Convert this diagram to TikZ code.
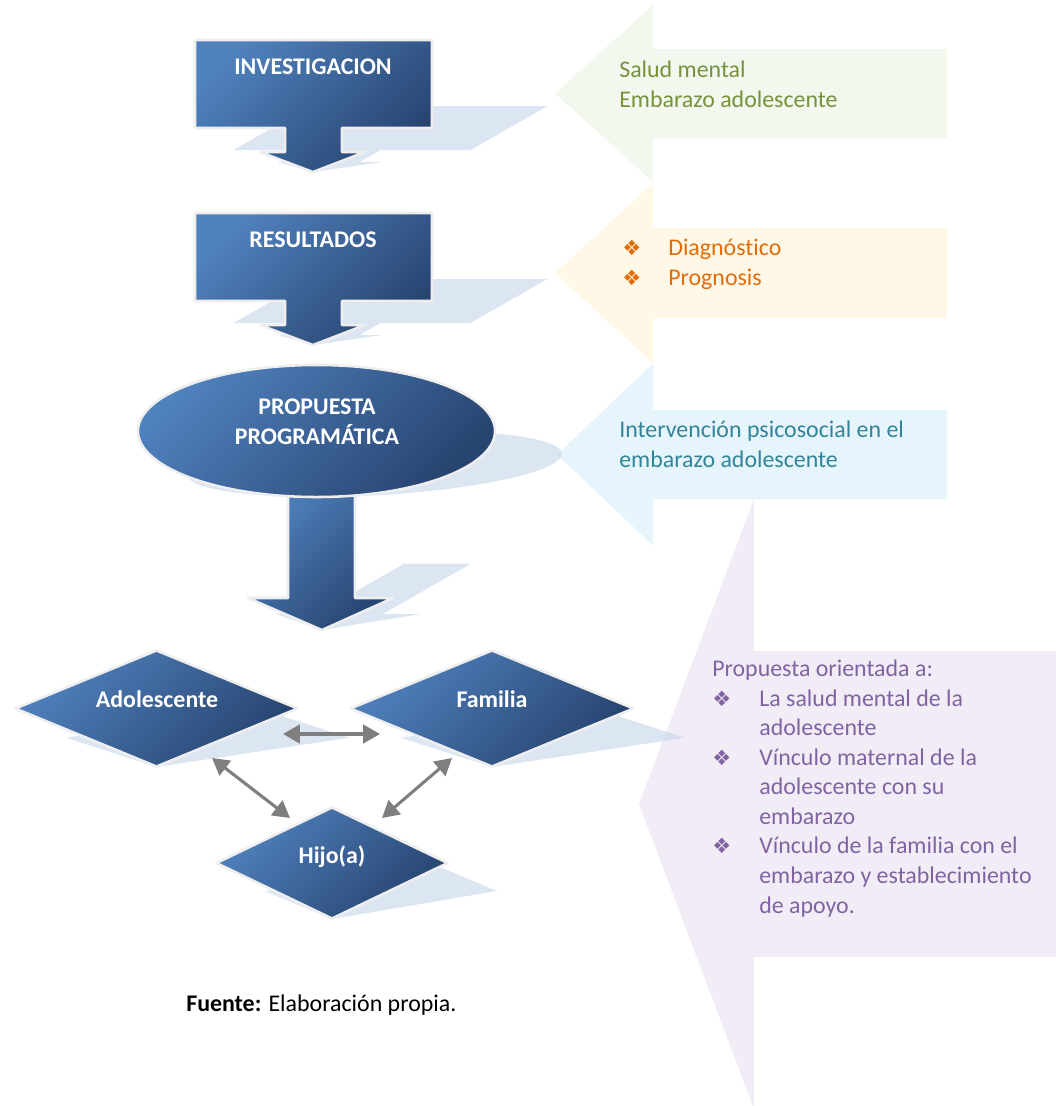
\documentclass[tikz,border=0pt]{standalone}
\usepackage{fontspec}
\setmainfont{Carlito}[Ligatures=NoCommon]
\newfontfamily\symfont{DejaVu Sans}
\usetikzlibrary{shapes.geometric,arrows.meta}

\definecolor{bluelight}{HTML}{4F81BD}
\definecolor{bluedark}{HTML}{284470}
\definecolor{rim}{HTML}{EEEEEE}
\definecolor{shadowc}{RGB}{197,213,233}
\definecolor{greenfill}{HTML}{F3F8EE}
\definecolor{greentext}{HTML}{76923C}
\definecolor{orangefill}{HTML}{FFF8E7}
\definecolor{orangetext}{HTML}{E36C09}
\definecolor{cyanfill}{HTML}{E6F5FB}
\definecolor{cyantext}{HTML}{31849B}
\definecolor{purplefill}{HTML}{F1ECF6}
\definecolor{purpletext}{HTML}{8064A2}
\definecolor{linkgray}{HTML}{7F7F7F}

% bullet of width #1 followed by the item text
\newcommand\itembullet[1]{\makebox[#1][l]{\symfont\fontsize{15}{21}\selectfont ❖}}

% perspective shadow of a diamond: centre x, centre y, half width, half height
\newcommand\dmshadow[4]{%
  \fill[shadowfill] ({#1-#3+0.875*#4},{#2+0.5*#4}) -- ({#1+1.75*#4},#2)
    -- ({#1+#3+0.875*#4},{#2+0.5*#4}) -- (#1,{#2+#4}) -- cycle;}

\tikzset{
  blueshape/.style={top color=bluelight, bottom color=bluedark, shading angle=45,
    draw=rim, line width=1.8pt, line join=round},
  shadowfill/.style={fill=shadowc, fill opacity=0.6},
  whitelabel/.style={text=white, font=\fontsize{17}{21}\selectfont\bfseries,
    inner sep=0pt, anchor=base, align=center},
  % multi-line texts are placed by the baseline of their last line
  calltext/.style={font=\fontsize{17}{21}\selectfont, inner sep=0pt,
    anchor=base west, align=left},
  link/.style={draw=linkgray, line width=2.2pt,
    {Triangle[length=0.42cm,width=0.46cm]}-{Triangle[length=0.42cm,width=0.46cm]}},
}

\begin{document}
\begin{tikzpicture}[x=0.025cm, y=-0.025cm]
\useasboundingbox (0,0) rectangle (1056,1106);

% ---- callouts on the right ----
\fill[greenfill] (653,49) -- (947,49) -- (947,138) -- (653,138) -- (653,182)
  -- (555,93.5) -- (653,5) -- cycle;
\fill[orangefill] (653,228) -- (947,228) -- (947,318) -- (653,318) -- (653,363)
  -- (555,273) -- (653,183) -- cycle;
\fill[cyanfill] (653,410) -- (947,410) -- (947,499) -- (653,499) -- (653,545.5)
  -- (557,454.5) -- (653,363.5) -- cycle;
\fill[purplefill] (754,651) -- (1056,651) -- (1056,957) -- (754,957) -- (754,1109)
  -- (639,804) -- (754,499) -- cycle;

% ---- shadows ----
\fill[shadowfill] (310.5,106) -- (547.5,106) -- (470.5,150) -- (380.5,150) -- (359.5,162)
  -- (382.5,162) -- (313,172) -- (277.5,162) -- (302.5,162) -- (323.5,150) -- (233.5,150) -- cycle;
\begin{scope}[shift={(0,173)}]
\fill[shadowfill] (310.5,106) -- (547.5,106) -- (470.5,150) -- (380.5,150) -- (359.5,162)
  -- (382.5,162) -- (313,172) -- (277.5,162) -- (302.5,162) -- (323.5,150) -- (233.5,150) -- cycle;
\end{scope}
\fill[shadowfill] plot[domain=0:360, samples=120, smooth]
  ({374.25+178.5*cos(\x)-57.75*sin(\x)}, {464+33*sin(\x)}) -- cycle;
\fill[shadowfill] (404.4,563.5) -- (471.4,563.5) -- (383,614) -- (421,614) -- (322,630)
  -- (276,614) -- (316,614) -- cycle;
\dmshadow{156.5}{708.5}{141.5}{58.5}
\dmshadow{492}{708.5}{142}{58.5}
\dmshadow{332}{863}{116}{56}

% ---- block arrows ----
\path[blueshape] (195,40) -- (432,40) -- (432,128) -- (342,128) -- (342,152) -- (365,152)
  -- (313,172) -- (260,152) -- (285,152) -- (285,128) -- (195,128) -- cycle;
\begin{scope}[shift={(0,173)}]
\path[blueshape] (195,40) -- (432,40) -- (432,128) -- (342,128) -- (342,152) -- (365,152)
  -- (313,172) -- (260,152) -- (285,152) -- (285,128) -- (195,128) -- cycle;
\end{scope}
\path[blueshape] (288,490) -- (355,490) -- (355,598) -- (393,598) -- (322,630) -- (248,598)
  -- (288,598) -- cycle;

% ---- ellipse and diamonds ----
\node[ellipse, blueshape, minimum width=8.925cm, minimum height=3.3cm, inner sep=0pt]
  (prop) at (316.5,431) {};
\node[diamond, blueshape, aspect=2.4, inner sep=0pt, minimum width=7.075cm, minimum height=2.925cm]
  (ado) at (156.5,708.5) {};
\node[diamond, blueshape, aspect=2.4, inner sep=0pt, minimum width=7.1cm, minimum height=2.925cm]
  (fam) at (492,708.5) {};
\node[diamond, blueshape, aspect=2.4, inner sep=0pt, minimum width=5.8cm, minimum height=2.8cm]
  (hijo) at (332,863) {};

% ---- labels in the blue shapes ----
\node[whitelabel] (inv) at (313,74) {INVESTIGACION};
\node[whitelabel] (res) at (313,247) {RESULTADOS};
\node[whitelabel] (propT) at (317,444.5) {PROPUESTA\\PROGRAMÁTICA};
\node[whitelabel] (adoT) at (157,707) {Adolescente};
\node[whitelabel] (famT) at (492,707) {Familia};
\node[whitelabel] (hijoT) at (332,863) {Hijo(a)};

% ---- relations between the diamonds ----
\draw[link] ([shift={(126.5,25.5)}]ado.center) -- ([shift={(-112,25.5)}]fam.center);
\draw[link] ([shift={(55.5,49.5)}]ado.center) -- ([shift={(-42,-45)}]hijo.center);
\draw[link] ([shift={(-40,49.5)}]fam.center) -- ([shift={(50,-45)}]hijo.center);

% ---- callout texts ----
\node[calltext, text=greentext] (gT) at (619,107) {Salud mental\\Embarazo adolescente};
\node[calltext, text=orangetext] (oT) at (622,285.5)
  {\itembullet{1.15cm}Diagnóstico\\\itembullet{1.15cm}Prognosis};
\node[calltext, text=cyantext] (cT) at (619,467)
  {Intervención psicosocial en el\\embarazo adolescente};
\node[calltext, text=purpletext] (pT) at (712,913)
  {Propuesta orientada a:\\
   \itembullet{1.175cm}La salud mental de la\\
   \hspace*{1.175cm}adolescente\\
   \itembullet{1.175cm}Vínculo maternal de la\\
   \hspace*{1.175cm}adolescente con su\\
   \hspace*{1.175cm}embarazo\\
   \itembullet{1.175cm}Vínculo de la familia con el\\
   \hspace*{1.175cm}embarazo y establecimiento\\
   \hspace*{1.175cm}de apoyo.};

% ---- source line ----
\node[calltext] (src) at (186,1011) {\textbf{Fuente:} Elaboración propia.};
\end{tikzpicture}
\end{document}
